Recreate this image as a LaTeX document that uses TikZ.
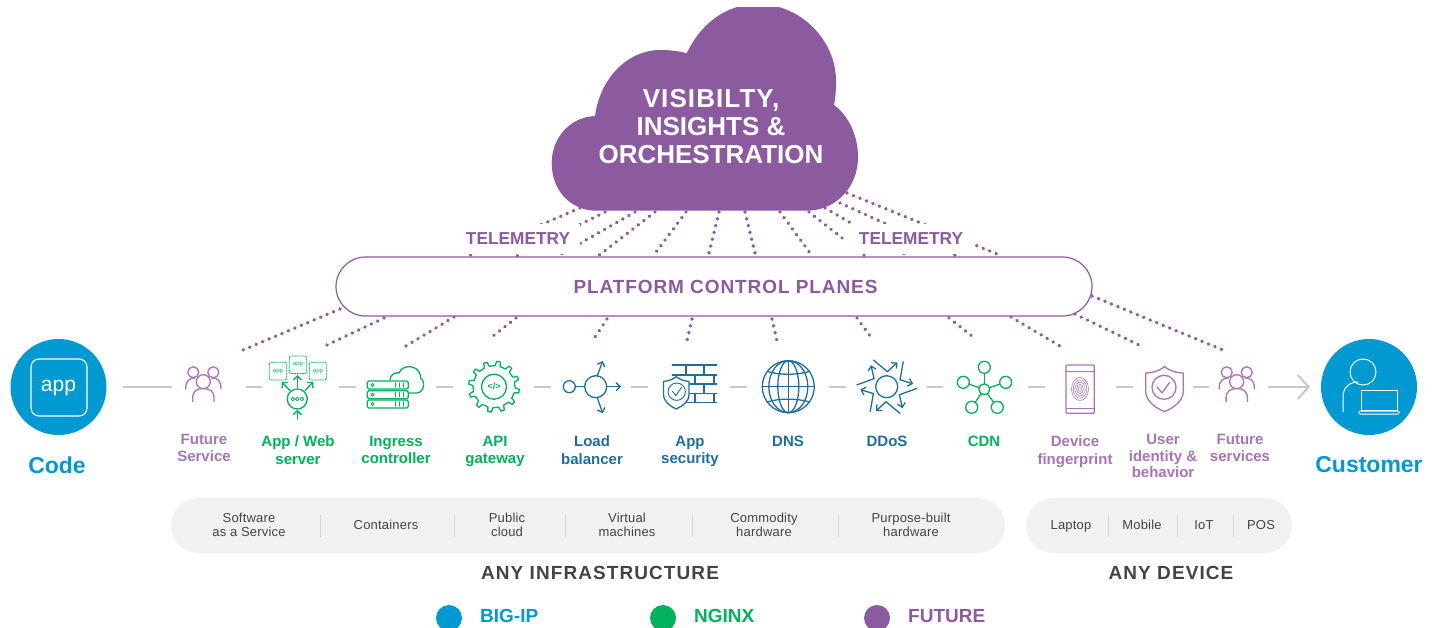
\documentclass[tikz,border=0pt]{standalone}
\usepackage{fontspec}
\setmainfont{Liberation Sans}
\usetikzlibrary{arrows.meta,decorations.markings}
\definecolor{cloudp}{HTML}{8C5A9F}
\definecolor{lightp}{HTML}{A675B8}
\definecolor{bigip}{HTML}{0099D2}
\definecolor{ngx}{HTML}{00B25A}
\definecolor{dblue}{HTML}{1E6F9F}
\definecolor{gline}{HTML}{C9C9C9}
\definecolor{sepg}{HTML}{D6D6D6}
\definecolor{pillg}{HTML}{F1F1F1}
\definecolor{dtext}{HTML}{444444}
\newcommand{\st}{\vphantom{Ag}}
\tikzset{
 dotline/.style={decoration={markings,mark=between positions 0 and 1 step 7pt with {\fill[cloudp] (0,0) circle (1.9pt);}},decorate},
 conn/.style={gline,line width=2pt},
 ico/.style={line width=1.3pt,line cap=round,line join=round},
 lab/.style={font=\bfseries\fontsize{15}{17.7}\selectfont,align=center,inner sep=0pt},
 labp/.style={lab,lightp,font=\bfseries\fontsize{15}{16.2}\selectfont},
 small/.style={font=\addfontfeature{LetterSpace=1.5}\fontsize{13}{14}\selectfont,align=center,text=dtext,inner sep=0pt},
 sep/.style={sepg,line width=0.9pt},
 head/.style={font=\addfontfeature{LetterSpace=5.7}\bfseries\fontsize{19}{21}\selectfont,inner sep=0pt},
 legend/.style={font=\bfseries\fontsize{19}{21}\selectfont,inner sep=0pt,anchor=west},
 chev/.tip={Straight Barb[length=4pt,width=8pt,line width=1.3pt]},
}
\newcommand{\people}[1]{%
 \begin{scope}[shift={(#1,0)},ico]
  \draw (203.3,381.7) circle (7);
  \draw (192.7,401.5) -- (192.7,398) .. controls (192.7,391) and (197,388.5) .. (203.3,388.5) .. controls (209.6,388.5) and (214,391) .. (214,398) -- (214,401.5);
  \draw (193.3,372.3) circle (5.5);
  \draw (213.3,372.3) circle (5.5);
  \draw (185.7,389) .. controls (185.7,381) and (189,378) .. (195,377.8);
  \draw (221,389) .. controls (221,381) and (218,378) .. (211.5,377.8);
 \end{scope}}
\begin{document}
\begin{tikzpicture}[x=1pt,y=-1pt]
\useasboundingbox (0,0) rectangle (1439,628);
% dotted lines cloud to platform
\foreach \n/\a/\b/\c/\d in {
 a/580/208/468/256, b/605/212/517/256, c/635/212/558/256, d/655/212/598/256,
 e/686/212/653/256, f/719/212/709/253, g/745/212/755/253, h/780/212/813/257,
 i/809/212/865/256, j/825/208/908/256, k/840/203/957/256, l/847/193/1002/256}{
 \coordinate (ct\n) at (\a,\b); \coordinate (pt\n) at (\c,\d);
 \path[dotline] (ct\n) -- (pt\n);
}
% dotted lines platform to services
\foreach \n/\a/\b/\c/\d in {
 a/340/309/243/350, b/384/318/327/345, c/454/317/406/346, d/516/318/493/336,
 e/607/319/595/337, f/692/319/687/341, g/772/319/777/341, h/857/318/870/336,
 i/949/318/972/336, j/1011/317/1060/346, k/1075/314/1139/345, l/1092/296/1223/350}{
 \coordinate (pb\n) at (\a,\b); \coordinate (sv\n) at (\c,\d);
 \path[dotline] (pb\n) -- (sv\n);
}
% telemetry labels
\fill[white] (460,224) rectangle (580,254.5);
\fill[white] (845,224) rectangle (975,254.5);
\node[cloudp,font=\bfseries\fontsize{17.3}{20}\selectfont,inner sep=0pt] (tel1) at (518,239) {TELEMETRY};
\node[cloudp,font=\bfseries\fontsize{17.3}{20}\selectfont,inner sep=0pt] (tel2) at (911,239) {TELEMETRY};
% cloud
\begin{scope}
 \clip (500,7.5) rectangle (900,240);
 \fill[cloudp] (596.7,210.7) .. controls (570,210.7) and (551.7,190) .. (551.7,163)
  .. controls (551.7,138) and (570,117) .. (595,116)
  .. controls (600,78) and (628,50) .. (660,50)
  .. controls (670,50) and (679,51) .. (686.7,53.3)
  .. controls (700,25) and (725,4) .. (758,4)
  .. controls (800,4) and (837,40) .. (836,83)
  .. controls (836,90) and (835.5,98) .. (834,105)
  .. controls (848,115) and (858,135) .. (858,157)
  .. controls (858,188) and (835,210.7) .. (806.7,210.7) -- cycle;
\end{scope}
\node[white,font=\bfseries\fontsize{26}{28}\selectfont,align=center,inner sep=0pt] (cloudtxt) at (711,127) {\addfontfeature{LetterSpace=4.2}VISIBILTY,\\INSIGHTS \&\\ORCHESTRATION};
% platform
\node[draw=cloudp,fill=white,line width=1.2pt,rounded corners=29.5pt,minimum width=756pt,minimum height=59pt,inner sep=0pt] (plat) at (714,286.5) {};
\node[cloudp,font=\addfontfeature{LetterSpace=4.8}\bfseries\fontsize{19}{21}\selectfont,inner sep=0pt] (plattxt) at (725.5,286.5) {PLATFORM CONTROL PLANES};
% horizontal connectors
\foreach \n/\a/\b in {1/123/172,2/246/262,3/339/356,4/436/453,5/534/551,6/631/648,7/730/747,8/829/846,9/927/943,10/1028/1045,11/1116/1133,12/1193/1209}{
 \coordinate (ha\n) at (\a,387); \coordinate (hb\n) at (\b,387);
 \draw[conn] (ha\n) -- (hb\n);
}
\coordinate (arrS) at (1268,387); \coordinate (arrE) at (1310,387);
\draw[conn,-{Straight Barb[length=11pt,width=24pt,line width=2pt]}] (arrS) -- (arrE);
% code
\node[circle,fill=bigip,minimum size=96pt,inner sep=0pt] (code) at (58.5,387) {};
\draw[white,line width=1.1pt,rounded corners=8pt] (31,359) rectangle (87,416);
\node[white,font=\fontsize{21}{24}\selectfont,inner sep=0pt] (apptxt) at (58.5,388) {app};
\node[bigip,font=\bfseries\fontsize{23}{26}\selectfont,inner sep=0pt] (codetxt) at (57,465) {Code};
% customer
\node[circle,fill=bigip,minimum size=96pt,inner sep=0pt] (cust) at (1369,387) {};
\begin{scope}[white,line width=1pt]
 \draw (1363,372) circle (13);
 \draw (1343,412) -- (1343,397) .. controls (1343,388) and (1349,382) .. (1358,382);
 \draw (1361,390) rectangle (1397,410);
 \draw[rounded corners=1pt] (1359,411) rectangle (1399,414);
\end{scope}
\node[bigip,font=\bfseries\fontsize{23}{26}\selectfont,inner sep=0pt] (custtxt) at (1369,465) {Customer};
% people
\begin{scope}[lightp]\people{0}\people{1033.4}\end{scope}
% app/web
\begin{scope}[ngx,ico]
 \draw (297.3,399) circle (10);
 \foreach \x in {-4.6,0,4.6}{\draw[line width=0.8pt] (297.3+\x,399) circle (1.8);}
 \draw[-{chev}] (297.3,419) -- (297.3,409.8);
 \draw[-{chev}] (297.3,388) -- (297.3,375);
 \draw[-{chev}] (290,390.7) -- (281.7,381.7);
 \draw[-{chev}] (305,390.7) -- (313.3,381.7);
 \foreach \x/\y in {269.3/362.3,289.3/356,309.3/362.3}{
  \draw[line width=0.8pt,dash pattern=on 1.6pt off 1.2pt,rounded corners=2pt] (\x,\y) rectangle ++(17.4,17.6);
  \node[font=\fontsize{6}{7}\selectfont,inner sep=0pt] at (\x+8.7,\y+8.8) {app};
 }
\end{scope}
% ingress
\begin{scope}[ngx,ico]
 \foreach \y in {381,390.7,400}{
  \draw[fill=white,rounded corners=1.5pt] (367.3,\y) rectangle (408.3,\y+8);
  \draw[line width=0.8pt] (372.5,\y+4) circle (1.5);
  \foreach \x in {395,399,403}{\draw[line width=0.8pt] (\x,\y+1.8) -- (\x,\y+6.2);}
 }
 \draw (390,380) .. controls (390,374) and (396,372) .. (399,373) .. controls (401,367) and (408,366) .. (412,367) .. controls (418,368) and (421,374) .. (420.5,378) .. controls (425,380) and (425,392) .. (417,393) -- (408.5,393);
\end{scope}
% gear
\begin{scope}[ngx,ico,shift={(494,386.7)}]
 \draw[line join=round] (0:21)
  \foreach \k in {0,...,11}{
   -- (\k*30+3:21) -- (\k*30+6:25.5) -- (\k*30+14:25.5) -- (\k*30+17:21) arc[start angle=\k*30+17,end angle=\k*30+30,radius=21]
  } -- cycle;
 \draw (0,0) circle (12.5);
 \node[font=\bfseries\fontsize{9}{10}\selectfont,inner sep=0pt] at (0,0) {</>};
\end{scope}
% load balancer
\begin{scope}[dblue,ico]
 \draw (569.3,386.7) circle (6);
 \draw (575.3,386.7) -- (584.7,386.7);
 \draw (595.7,386.7) circle (11);
 \draw[-{chev}] (606.7,386.7) -- (621,386.7);
 \draw[-{chev}] (597.3,375.7) -- (602.7,361);
 \draw[-{chev}] (597.3,397.7) -- (602.7,413.3);
\end{scope}
% app security
\begin{scope}[dblue,ico]
 \foreach \y in {365,375,384,393.3,402.7}{\draw (672.3,\y) -- (716.7,\y);}
 \foreach \x in {686,704}{\draw (\x,365) -- (\x,375); \draw (\x,384) -- (\x,393.3);}
 \foreach \x in {695,714}{\draw (\x,375) -- (\x,384); \draw (\x,393.3) -- (\x,402.7);}
 \draw[fill=white] (676.2,376.7) .. controls (672,380) and (668,381) .. (663.5,381.5) -- (663.5,394) .. controls (663.5,402) and (670,406) .. (676.2,409) .. controls (682.5,406) and (689,402) .. (689,394) -- (689,381.5) .. controls (684.5,381) and (680.5,380) .. (676.2,376.7) -- cycle;
 \draw[line width=0.9pt] (676.7,391.7) circle (8.7);
 \draw[line width=0.9pt] (672.5,391.5) -- (675.8,395.5) -- (681.5,387.5);
\end{scope}
% dns
\begin{scope}[dblue,ico,shift={(788.3,386.7)}]
 \draw (0,0) circle (26);
 \draw (0,-26) -- (0,26);
 \draw (-26,0) -- (26,0);
 \draw (0,0) ellipse (10.5 and 26);
 \draw (0,0) ellipse (19.5 and 26);
 \draw (-21,-15.3) .. controls (-10,-11.5) and (10,-11.5) .. (21,-15.3);
 \draw (-21,15.3) .. controls (-10,11.5) and (10,11.5) .. (21,15.3);
\end{scope}
% ddos
\begin{scope}[dblue,ico,shift={(886.7,386.7)}]
 \draw (0,0) circle (11);
 \foreach \k in {0,...,5}{
  \begin{scope}[rotate=\k*60]
   \draw[-{chev}] (-13.3,-26.7) -- (0.7,-15) -- (10.7,-24.3);
  \end{scope}
 }
\end{scope}
% cdn
\begin{scope}[ngx,ico]
 \foreach \x/\y in {984.3/367.3,963.3/382.3,1005.7/382.3,971.7/407.3,997.3/407.3}{
  \draw (984.3,389.3) -- (\x,\y);
  \draw[fill=white] (\x,\y) circle (6);
 }
 \draw[fill=white] (984.3,389.3) circle (5.5);
\end{scope}
% device
\begin{scope}[lightp,ico]
 \draw[rounded corners=1pt] (1066,365) rectangle (1094.3,413.3);
 \draw (1066,371.7) -- (1094.3,371.7);
 \draw (1066,408.3) -- (1094.3,408.3);
 \begin{scope}[line width=0.55pt]
  \foreach \r in {2,4,6,8,10}{
   \draw (1080,389) ellipse (\r*0.85 and \r*1.15);
  }
 \end{scope}
\end{scope}
% user identity
\begin{scope}[lightp,ico]
 \draw (1164.5,366.7) .. controls (1158,371.5) and (1152,373) .. (1145.7,373) -- (1145.7,391) .. controls (1145.7,401) and (1155,407.5) .. (1164.5,411.7) .. controls (1174,407.5) and (1183.3,401) .. (1183.3,391) -- (1183.3,373) .. controls (1177,373) and (1171,371.5) .. (1164.5,366.7) -- cycle;
 \draw (1164,387.3) circle (12);
 \draw (1157,387) -- (1162,393) -- (1169.5,382.5);
\end{scope}
% labels
\node[labp] (l1) at (204,449.5) {\st Future\\\st Service};
\node[lab,ngx] (l2) at (298,451.5) {\st App / Web\\\st server};
\node[lab,ngx] (l3) at (396,451.5) {\st Ingress\\\st controller};
\node[lab,ngx] (l4) at (495,451.5) {\st API\\\st gateway};
\node[lab,dblue] (l5) at (592,451.5) {\st Load\\\st balancer};
\node[lab,dblue] (l6) at (690,451.5) {\st App\\\st security};
\node[lab,dblue] (l7) at (788,442.5) {\st DNS};
\node[lab,dblue] (l8) at (887,442.5) {\st DDoS};
\node[lab,ngx] (l9) at (984,442.5) {\st CDN};
\node[lab,lightp] (l10) at (1075,451.5) {\st Device\\\st fingerprint};
\node[labp] (l11) at (1163,457.5) {\st User\\\st identity \&\\\st behavior};
\node[labp] (l12) at (1240,449.5) {\st Future\\\st services};
% pills
\node[fill=pillg,rounded corners=27.5pt,minimum width=834pt,minimum height=55pt,inner sep=0pt] (infra) at (588,525.5) {};
\node[fill=pillg,rounded corners=27.5pt,minimum width=266pt,minimum height=55pt,inner sep=0pt] (dev) at (1159,525.5) {};
\foreach \x in {320,454,565,692,838,1108,1177,1233}{
 \coordinate (s\x a) at (\x,515); \coordinate (s\x b) at (\x,537);
 \draw[sep] (s\x a) -- (s\x b);
}
\node[small] (i1) at (249,526) {\st Software\\\st as a Service};
\node[small] (i2) at (386,526) {\st Containers};
\node[small] (i3) at (507,526) {\st Public\\\st cloud};
\node[small] (i4) at (627,526) {\st Virtual\\\st machines};
\node[small] (i5) at (764,526) {\st Commodity\\\st hardware};
\node[small] (i6) at (911,526) {\st Purpose-built\\\st hardware};
\node[small] (d1) at (1071,526) {\st Laptop};
\node[small] (d2) at (1142,526) {\st Mobile};
\node[small] (d3) at (1204,526) {\st IoT};
\node[small] (d4) at (1261,526) {\st POS};
\node[head,text=dtext] (anyinf) at (600,573) {ANY INFRASTRUCTURE};
\node[head,text=dtext] (anydev) at (1171,573) {ANY DEVICE};
% legend
\fill[bigip] (449,618) circle (13);
\fill[ngx] (663,618) circle (13);
\fill[cloudp] (877,618) circle (13);
\node[legend,bigip] (lg1) at (480,616) {BIG-IP};
\node[legend,ngx] (lg2) at (694,616) {NGINX};
\node[legend,cloudp] (lg3) at (908,616) {FUTURE};
\end{tikzpicture}
\end{document}
